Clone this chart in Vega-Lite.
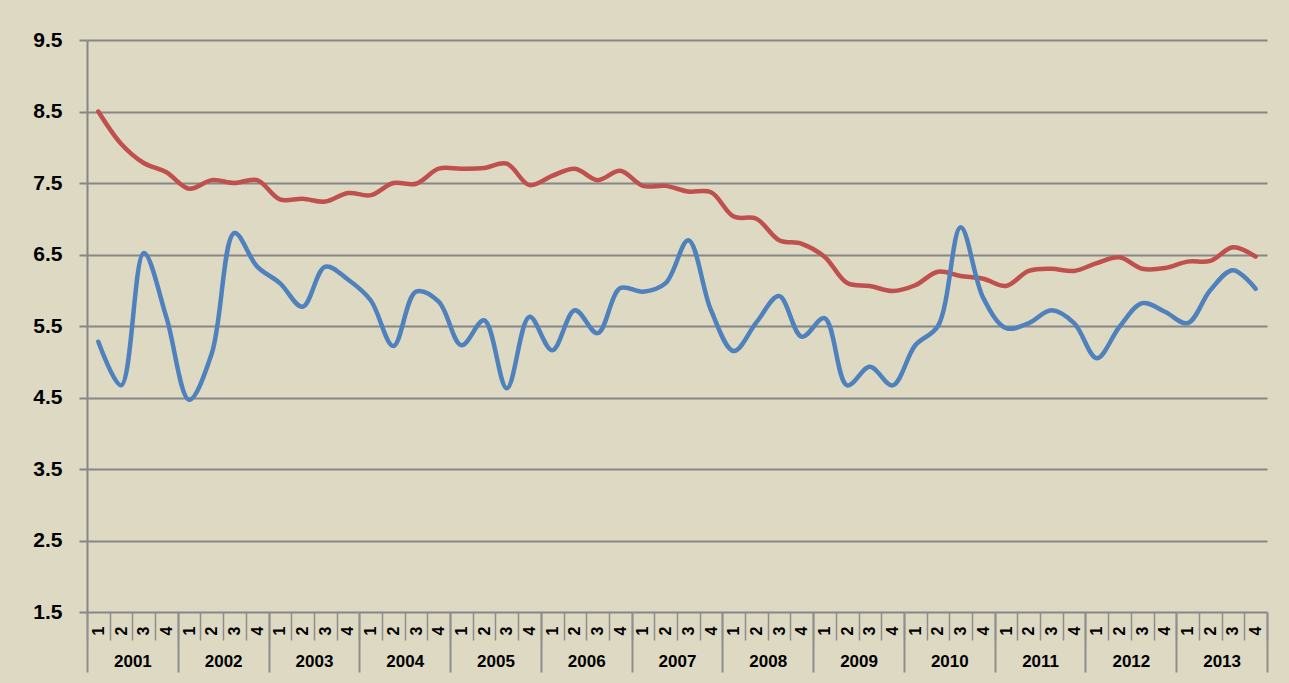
{
  "$schema": "https://vega.github.io/schema/vega-lite/v6.json",
  "width": 1180,
  "height": 572,
  "autosize": {"type": "none"},
  "padding": {"left": 87, "top": 40, "right": 22, "bottom": 71},
  "background": "#DDD9C3",
  "config": {"view": {"stroke": null}, "font": "Liberation Sans"},
  "datasets": {
    "rows": [
      {"i":0,"s":"Series 2","v":8.50},{"i":1,"s":"Series 2","v":8.05},{"i":2,"s":"Series 2","v":7.78},{"i":3,"s":"Series 2","v":7.65},
      {"i":4,"s":"Series 2","v":7.42},{"i":5,"s":"Series 2","v":7.54},{"i":6,"s":"Series 2","v":7.50},{"i":7,"s":"Series 2","v":7.54},
      {"i":8,"s":"Series 2","v":7.27},{"i":9,"s":"Series 2","v":7.28},{"i":10,"s":"Series 2","v":7.24},{"i":11,"s":"Series 2","v":7.36},
      {"i":12,"s":"Series 2","v":7.33},{"i":13,"s":"Series 2","v":7.50},{"i":14,"s":"Series 2","v":7.49},{"i":15,"s":"Series 2","v":7.70},
      {"i":16,"s":"Series 2","v":7.70},{"i":17,"s":"Series 2","v":7.71},{"i":18,"s":"Series 2","v":7.77},{"i":19,"s":"Series 2","v":7.47},
      {"i":20,"s":"Series 2","v":7.60},{"i":21,"s":"Series 2","v":7.70},{"i":22,"s":"Series 2","v":7.54},{"i":23,"s":"Series 2","v":7.67},
      {"i":24,"s":"Series 2","v":7.46},{"i":25,"s":"Series 2","v":7.46},{"i":26,"s":"Series 2","v":7.38},{"i":27,"s":"Series 2","v":7.37},
      {"i":28,"s":"Series 2","v":7.03},{"i":29,"s":"Series 2","v":7.00},{"i":30,"s":"Series 2","v":6.70},{"i":31,"s":"Series 2","v":6.65},
      {"i":32,"s":"Series 2","v":6.47},{"i":33,"s":"Series 2","v":6.10},{"i":34,"s":"Series 2","v":6.06},{"i":35,"s":"Series 2","v":5.99},
      {"i":36,"s":"Series 2","v":6.07},{"i":37,"s":"Series 2","v":6.26},{"i":38,"s":"Series 2","v":6.20},{"i":39,"s":"Series 2","v":6.16},
      {"i":40,"s":"Series 2","v":6.06},{"i":41,"s":"Series 2","v":6.27},{"i":42,"s":"Series 2","v":6.30},{"i":43,"s":"Series 2","v":6.27},
      {"i":44,"s":"Series 2","v":6.38},{"i":45,"s":"Series 2","v":6.46},{"i":46,"s":"Series 2","v":6.30},{"i":47,"s":"Series 2","v":6.31},
      {"i":48,"s":"Series 2","v":6.40},{"i":49,"s":"Series 2","v":6.41},{"i":50,"s":"Series 2","v":6.60},{"i":51,"s":"Series 2","v":6.47},
      {"i":0,"s":"Series 1","v":5.28},{"i":1,"s":"Series 1","v":4.67},{"i":2,"s":"Series 1","v":6.52},{"i":3,"s":"Series 1","v":5.62},
      {"i":4,"s":"Series 1","v":4.47},{"i":5,"s":"Series 1","v":5.12},{"i":6,"s":"Series 1","v":6.80},{"i":7,"s":"Series 1","v":6.33},
      {"i":8,"s":"Series 1","v":6.10},{"i":9,"s":"Series 1","v":5.77},{"i":10,"s":"Series 1","v":6.33},{"i":11,"s":"Series 1","v":6.15},
      {"i":12,"s":"Series 1","v":5.86},{"i":13,"s":"Series 1","v":5.22},{"i":14,"s":"Series 1","v":5.98},{"i":15,"s":"Series 1","v":5.84},
      {"i":16,"s":"Series 1","v":5.23},{"i":17,"s":"Series 1","v":5.58},{"i":18,"s":"Series 1","v":4.63},{"i":19,"s":"Series 1","v":5.63},
      {"i":20,"s":"Series 1","v":5.16},{"i":21,"s":"Series 1","v":5.72},{"i":22,"s":"Series 1","v":5.40},{"i":23,"s":"Series 1","v":6.03},
      {"i":24,"s":"Series 1","v":5.98},{"i":25,"s":"Series 1","v":6.10},{"i":26,"s":"Series 1","v":6.70},{"i":27,"s":"Series 1","v":5.72},
      {"i":28,"s":"Series 1","v":5.15},{"i":29,"s":"Series 1","v":5.55},{"i":30,"s":"Series 1","v":5.92},{"i":31,"s":"Series 1","v":5.35},
      {"i":32,"s":"Series 1","v":5.61},{"i":33,"s":"Series 1","v":4.67},{"i":34,"s":"Series 1","v":4.93},{"i":35,"s":"Series 1","v":4.67},
      {"i":36,"s":"Series 1","v":5.23},{"i":37,"s":"Series 1","v":5.50},{"i":38,"s":"Series 1","v":6.88},{"i":39,"s":"Series 1","v":5.89},
      {"i":40,"s":"Series 1","v":5.47},{"i":41,"s":"Series 1","v":5.54},{"i":42,"s":"Series 1","v":5.72},{"i":43,"s":"Series 1","v":5.54},
      {"i":44,"s":"Series 1","v":5.05},{"i":45,"s":"Series 1","v":5.49},{"i":46,"s":"Series 1","v":5.82},{"i":47,"s":"Series 1","v":5.70},
      {"i":48,"s":"Series 1","v":5.54},{"i":49,"s":"Series 1","v":6.00},{"i":50,"s":"Series 1","v":6.28},{"i":51,"s":"Series 1","v":6.02}
    ]
  },
  "data": {"name": "rows"},
  "resolve": {"axis": {"x": "independent"}},
  "layer": [
    {
      "mark": {"type": "line", "interpolate": "catmull-rom", "strokeWidth": 4.5, "strokeCap": "round"},
      "encoding": {
        "x": {
          "field": "i", "type": "quantitative",
          "scale": {"domain": [-0.5, 51.5], "nice": false, "zero": false},
          "axis": {
            "orient": "bottom", "offset": 0, "title": null,
            "values": [0,1,2,3,4,5,6,7,8,9,10,11,12,13,14,15,16,17,18,19,20,21,22,23,24,25,26,27,28,29,30,31,32,33,34,35,36,37,38,39,40,41,42,43,44,45,46,47,48,49,50,51],
            "labelExpr": "'' + (datum.value % 4 + 1)",
            "labelAngle": 270, "labelAlign": "right", "labelBaseline": "middle",
            "labelFontSize": 16, "labelFontWeight": "bold", "labelColor": "#000000",
            "labelPadding": 14, "ticks": false, "tickSize": 0, "domain": false, "grid": false,
            "labelOverlap": false, "labelFlush": false, "labelBound": false
          }
        },
        "y": {
          "field": "v", "type": "quantitative",
          "scale": {"domain": [1.5, 9.5], "nice": false, "zero": false},
          "axis": {
            "title": null,
            "values": [1.5,2.5,3.5,4.5,5.5,6.5,7.5,8.5,9.5],
            "format": ".1f",
            "labelFontSize": 21, "labelFontWeight": "bold", "labelColor": "#000000",
            "labelPadding": 17, "tickSize": 8, "tickColor": "#878787", "tickWidth": 2,
            "domainColor": "#878787", "domainWidth": 2,
            "grid": true, "gridColor": "#878787", "gridWidth": 2, "gridOpacity": 1,
            "labelOverlap": false, "labelFlush": false
          }
        },
        "color": {
          "field": "s", "type": "nominal",
          "scale": {"domain": ["Series 1", "Series 2"], "range": ["#4F81BD", "#C0504D"]},
          "legend": null
        }
      }
    },
    {
      "mark": {"type": "point", "opacity": 0},
      "encoding": {
        "x": {
          "field": "i", "type": "quantitative",
          "axis": {
            "orient": "bottom", "offset": 0, "title": null,
            "values": [-0.5,0.5,1.5,2.5,3.5,4.5,5.5,6.5,7.5,8.5,9.5,10.5,11.5,12.5,13.5,14.5,15.5,16.5,17.5,18.5,19.5,20.5,21.5,22.5,23.5,24.5,25.5,26.5,27.5,28.5,29.5,30.5,31.5,32.5,33.5,34.5,35.5,36.5,37.5,38.5,39.5,40.5,41.5,42.5,43.5,44.5,45.5,46.5,47.5,48.5,49.5,50.5,51.5],
            "labels": false, "domain": false, "grid": false,
            "ticks": true, "tickSize": 28, "tickColor": "#8E8E8E", "tickWidth": 1.5
          }
        },
        "y": {"field": "v", "type": "quantitative"}
      }
    },
    {
      "mark": {"type": "point", "opacity": 0},
      "encoding": {
        "x": {
          "field": "i", "type": "quantitative",
          "axis": {
            "orient": "bottom", "offset": 0, "title": null,
            "values": [-0.5,3.5,7.5,11.5,15.5,19.5,23.5,27.5,31.5,35.5,39.5,43.5,47.5,51.5],
            "labels": false, "domain": false, "grid": false,
            "ticks": true, "tickSize": 60, "tickColor": "#8E8E8E", "tickWidth": 2
          }
        },
        "y": {"field": "v", "type": "quantitative"}
      }
    },
    {
      "mark": {"type": "point", "opacity": 0},
      "encoding": {
        "x": {
          "field": "i", "type": "quantitative",
          "axis": {
            "orient": "bottom", "offset": 0, "title": null,
            "values": [1.5,5.5,9.5,13.5,17.5,21.5,25.5,29.5,33.5,37.5,41.5,45.5,49.5],
            "labelExpr": "'' + (2001 + (datum.value - 1.5) / 4)",
            "labelFontSize": 17, "labelFontWeight": "bold", "labelColor": "#000000",
            "labelPadding": 41, "labelBaseline": "top", "labelAlign": "center", "labelAngle": 0,
            "ticks": false, "tickSize": 0, "domain": false, "grid": false,
            "labelOverlap": false, "labelFlush": false, "labelBound": false
          }
        },
        "y": {"field": "v", "type": "quantitative"}
      }
    }
  ]
}
